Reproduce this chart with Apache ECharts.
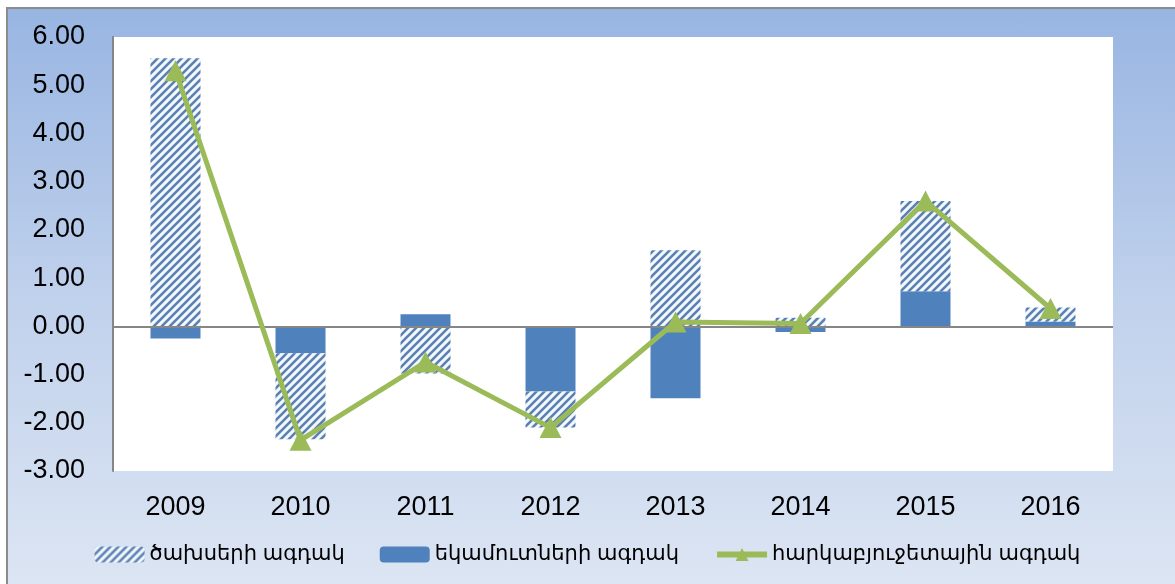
<!DOCTYPE html>
<html>
<head>
<meta charset="utf-8">
<script src="https://cdn.jsdelivr.net/npm/echarts@6/dist/echarts.min.js"></script>
<style>
html,body{margin:0;padding:0;background:#fff;width:1175px;height:584px;overflow:hidden;}
#bg{position:absolute;left:6px;top:7px;width:1169px;height:577px;border-left:2px solid #8c8c8c;border-top:2px solid #8c8c8c;
background:linear-gradient(to bottom,#98b5e2 0%,#c0d1ec 50%,#dce5f3 100%);}
#chart{position:absolute;left:0;top:0;width:1175px;height:584px;}
</style>
</head>
<body>
<div id="bg"></div>
<div id="chart"></div>
<script>
const categories = ['2009','2010','2011','2012','2013','2014','2015','2016'];
const expenditureImpulse = [5.56, -1.78, -0.98, -0.75, 1.58, 0.18, 1.87, 0.29];
const revenueImpulse = [-0.25, -0.56, 0.25, -1.35, -1.49, -0.12, 0.73, 0.10];
const fiscalImpulse = [5.30, -2.36, -0.74, -2.10, 0.09, 0.06, 2.60, 0.37];
const seriesNames = ['ծախսերի ագդակ', 'եկամուտների ագդակ', 'հարկաբյուջետային ագդակ'];
const yTicks = {min: -3, max: 6, step: 1};

// hatch pattern
const pc = document.createElement('canvas');
pc.width = 8; pc.height = 8;
const g = pc.getContext('2d');
g.fillStyle = '#f2f8fc';
g.fillRect(0,0,8,8);
g.strokeStyle = '#5b80b2';
g.lineWidth = 2.6;
g.beginPath();
g.moveTo(-2,10); g.lineTo(10,-2);
g.moveTo(-6,6); g.lineTo(6,-6);
g.moveTo(2,14); g.lineTo(14,2);
g.stroke();

const FONT = "'Liberation Sans','DejaVu Sans',Arial,sans-serif";
const chart = echarts.init(document.getElementById('chart'), null, {renderer:'canvas'});
chart.setOption({
  backgroundColor: 'transparent',
  animation: false,
  grid: {left: 113, right: 62, top: 37, bottom: 113, show: true, backgroundColor: '#ffffff', borderWidth: 0, containLabel: false},
  legend: {
    bottom: 14, left: 'center',
    data: [
      {name: seriesNames[0]},
      {name: seriesNames[1]},
      {name: seriesNames[2], lineStyle: {width: 6}}
    ],
    itemWidth: 50, itemHeight: 16, itemGap: 35,
    textStyle: {fontSize: 21, color: '#000', fontFamily: FONT}
  },
  xAxis: {
    type: 'category', data: categories,
    axisLine: {show: false}, axisTick: {show: false},
    axisLabel: {fontSize: 27, color: '#000', margin: 23, fontFamily: FONT}
  },
  yAxis: {
    type: 'value', min: yTicks.min, max: yTicks.max, interval: yTicks.step,
    axisLine: {show: true, lineStyle: {color: '#868686', width: 2}},
    axisTick: {show: false},
    splitLine: {show: false},
    axisLabel: {fontSize: 27, color: '#000', margin: 28, align: 'right', fontFamily: FONT, formatter: v => v.toFixed(2)}
  },
  series: [
    {
      name: seriesNames[1], type: 'bar', stack: 'imp', data: revenueImpulse, barWidth: '40%',
      itemStyle: {color: '#4f81bd'},
      markLine: {silent: true, symbol: 'none', label: {show: false},
        lineStyle: {color: '#868686', width: 2, type: 'solid'}, data: [{yAxis: 0}]}
    },
    {
      name: seriesNames[0], type: 'bar', stack: 'imp', data: expenditureImpulse, barWidth: '40%',
      itemStyle: {color: {image: pc, repeat: 'repeat'}}
    },
    {
      name: seriesNames[2], type: 'line', data: fiscalImpulse,
      symbol: 'triangle', symbolSize: [22, 21],
      lineStyle: {color: '#9bbb59', width: 5},
      itemStyle: {color: '#9bbb59'}, z: 5
    }
  ]
});
</script>
</body>
</html>
